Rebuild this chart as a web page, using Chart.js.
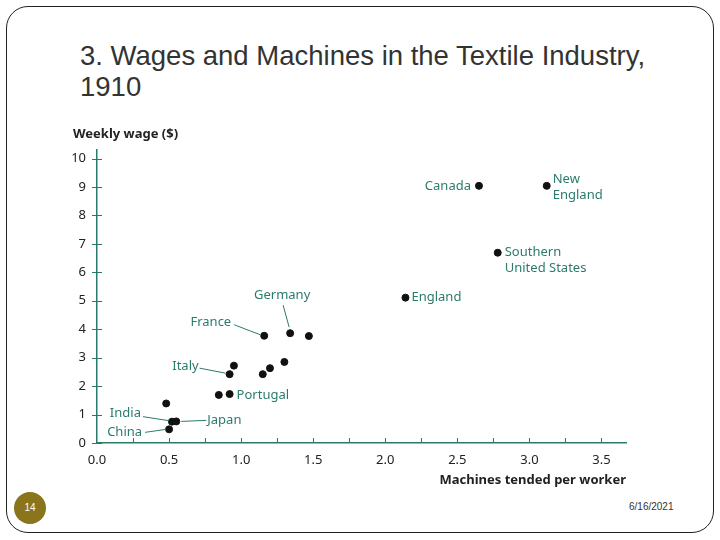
<!DOCTYPE html>
<html>
<head>
<meta charset="utf-8">
<script src="https://cdn.jsdelivr.net/npm/chart.js@4.4.0/dist/chart.umd.min.js"></script>
<style>
  body { margin: 0; background: #fff; }
  #slide { position: relative; width: 720px; height: 540px; overflow: hidden; }
  #frame { position: absolute; left: 6px; top: 6px; width: 706px; height: 525px;
           border: 1.5px solid #222; border-radius: 22px; }
  #title { position: absolute; left: 80px; top: 40px; font-family: "Liberation Sans", Arial, sans-serif;
           font-size: 27.5px; line-height: 31px; color: #333; }
  #pageNum { position: absolute; left: 14px; top: 492px; width: 32px; height: 32px; border-radius: 50%;
             background: #8a741c; color: #fff; font: 10px "Liberation Sans", Arial, sans-serif;
             text-align: center; line-height: 32px; }
  #date { position: absolute; left: 629px; top: 501px; font: 10px "Liberation Sans", Arial, sans-serif; color: #333; }
  canvas { position: absolute; left: 0; top: 0; }
</style>
</head>
<body>
<div id="slide">
  <div id="frame"></div>
  <div id="title">3. Wages and Machines in the Textile Industry,<br>1910</div>
  <div id="pageNum">14</div>
  <div id="date">6/16/2021</div>
  <canvas id="textileChart" width="720" height="540"></canvas>
</div>
<script>
// machines tended per worker vs weekly wage, 1910
var places = ["Canada", "New England", "Southern United States", "England", "France", "Germany", "", "", "", "",
              "Italy", "", "Portugal", "", "", "India", "Japan", "China"];
var machines = [2.65, 3.12, 2.78, 2.14, 1.16, 1.34, 1.47, 1.30, 1.20, 1.15, 0.92, 0.95, 0.92, 0.845, 0.48, 0.52, 0.55, 0.50];
var wages = [9.04, 9.04, 6.69, 5.11, 3.77, 3.86, 3.76, 2.85, 2.63, 2.42, 2.42, 2.72, 1.72, 1.69, 1.39, 0.75, 0.76, 0.48];

var teal = "#2b7b6d";
var chartFont = "'Noto Sans', sans-serif";

// label placement relative to the dot (pixels), with optional leader line
var callouts = {
    "Canada": { lines: ["Canada"], align: "right", dx: -8, dy: 0 },
    "New England": { lines: ["New", "England"], align: "left", dx: 6, dy: -7 },
    "Southern United States": { lines: ["Southern", "United States"], align: "left", dx: 7, dy: 0 },
    "England": { lines: ["England"], align: "left", dx: 6, dy: 0 },
    "France": { lines: ["France"], align: "right", dx: -33, dy: -13, leader: [-30, -11, -4, -1] },
    "Germany": { lines: ["Germany"], align: "center", dx: -8, dy: -38, leader: [-7, -28, -1, -6] },
    "Italy": { lines: ["Italy"], align: "right", dx: -31, dy: -8, leader: [-30, -6, -4, -1] },
    "Portugal": { lines: ["Portugal"], align: "left", dx: 7, dy: 1 },
    "India": { lines: ["India"], align: "right", dx: -31, dy: -8, leader: [-29, -5, -3, -1] },
    "Japan": { lines: ["Japan"], align: "left", dx: 31, dy: -1, leader: [5, 0, 30, -1] },
    "China": { lines: ["China"], align: "right", dx: -27, dy: 3, leader: [-24, 3, -3, 0] }
};

var points = machines.map(function (m, i) {
    return { x: m, y: wages[i] };
});

var decorations = {
    id: "decorations",
    afterDraw: function (chart) {
        var ctx = chart.ctx;
        var xs = chart.scales.x;
        var ys = chart.scales.y;
        var area = chart.chartArea;
        ctx.save();

        // tick marks: y crosses the axis, x points up
        ctx.strokeStyle = teal;
        ctx.lineWidth = 1;
        ctx.beginPath();
        for (var v = 0; v <= 10; v++) {
            var py = Math.round(ys.getPixelForValue(v)) + 0.5;
            ctx.moveTo(area.left - 5, py);
            ctx.lineTo(area.left + 5, py);
        }
        for (var t = 0.25; t <= 3.5; t += 0.25) {
            var px = Math.round(xs.getPixelForValue(t)) + 0.5;
            ctx.moveTo(px, area.bottom);
            ctx.lineTo(px, area.bottom - 5);
        }
        ctx.stroke();

        // y axis heading
        ctx.fillStyle = "#222";
        ctx.font = "bold 13px " + chartFont;
        ctx.textAlign = "left";
        ctx.textBaseline = "middle";
        ctx.fillText("Weekly wage ($)", area.left - 24, area.top - 16);

        // country labels
        ctx.font = "13px " + chartFont;
        ctx.fillStyle = teal;
        ctx.strokeStyle = teal;
        places.forEach(function (name, i) {
            var c = callouts[name];
            if (!c) return;
            var x = xs.getPixelForValue(machines[i]);
            var y = ys.getPixelForValue(wages[i]);
            ctx.textAlign = c.align;
            c.lines.forEach(function (line, k) {
                ctx.fillText(line, x + c.dx, y + c.dy + k * 16);
            });
            if (c.leader) {
                ctx.beginPath();
                ctx.moveTo(x + c.leader[0], y + c.leader[1]);
                ctx.lineTo(x + c.leader[2], y + c.leader[3]);
                ctx.stroke();
            }
        });
        ctx.restore();
    }
};

new Chart(document.getElementById("textileChart"), {
    type: "scatter",
    data: {
        datasets: [{
            data: points,
            backgroundColor: "#111",
            borderColor: "#111",
            pointRadius: 3.5,
            pointHoverRadius: 3.5
        }]
    },
    options: {
        responsive: false,
        animation: false,
        layout: { padding: { left: 57, right: 94, top: 150, bottom: 48 } },
        plugins: { legend: { display: false }, tooltip: { enabled: false } },
        scales: {
            x: {
                type: "linear",
                min: 0,
                max: 3.67,
                afterFit: function (scale) { scale.height = 49; },
                border: { color: teal, width: 1.5 },
                grid: { drawOnChartArea: false, drawTicks: false },
                ticks: {
                    stepSize: 0.5,
                    includeBounds: false,
                    maxRotation: 0,
                    padding: 9,
                    color: "#222",
                    font: { family: chartFont, size: 13 },
                    callback: function (v) { return Number(v).toFixed(1); }
                },
                title: {
                    display: true,
                    text: "Machines tended per worker",
                    align: "end",
                    color: "#222",
                    padding: { top: 0, bottom: 4 },
                    font: { family: chartFont, size: 13, weight: "bold" }
                }
            },
            y: {
                min: 0,
                max: 10.3,
                afterFit: function (scale) { scale.width = 40; },
                border: { color: teal, width: 1.5 },
                grid: { drawOnChartArea: false, drawTicks: false },
                ticks: {
                    stepSize: 1,
                    includeBounds: false,
                    padding: 11,
                    color: "#222",
                    font: { family: chartFont, size: 13 }
                }
            }
        }
    },
    plugins: [decorations]
});
</script>
</body>
</html>
